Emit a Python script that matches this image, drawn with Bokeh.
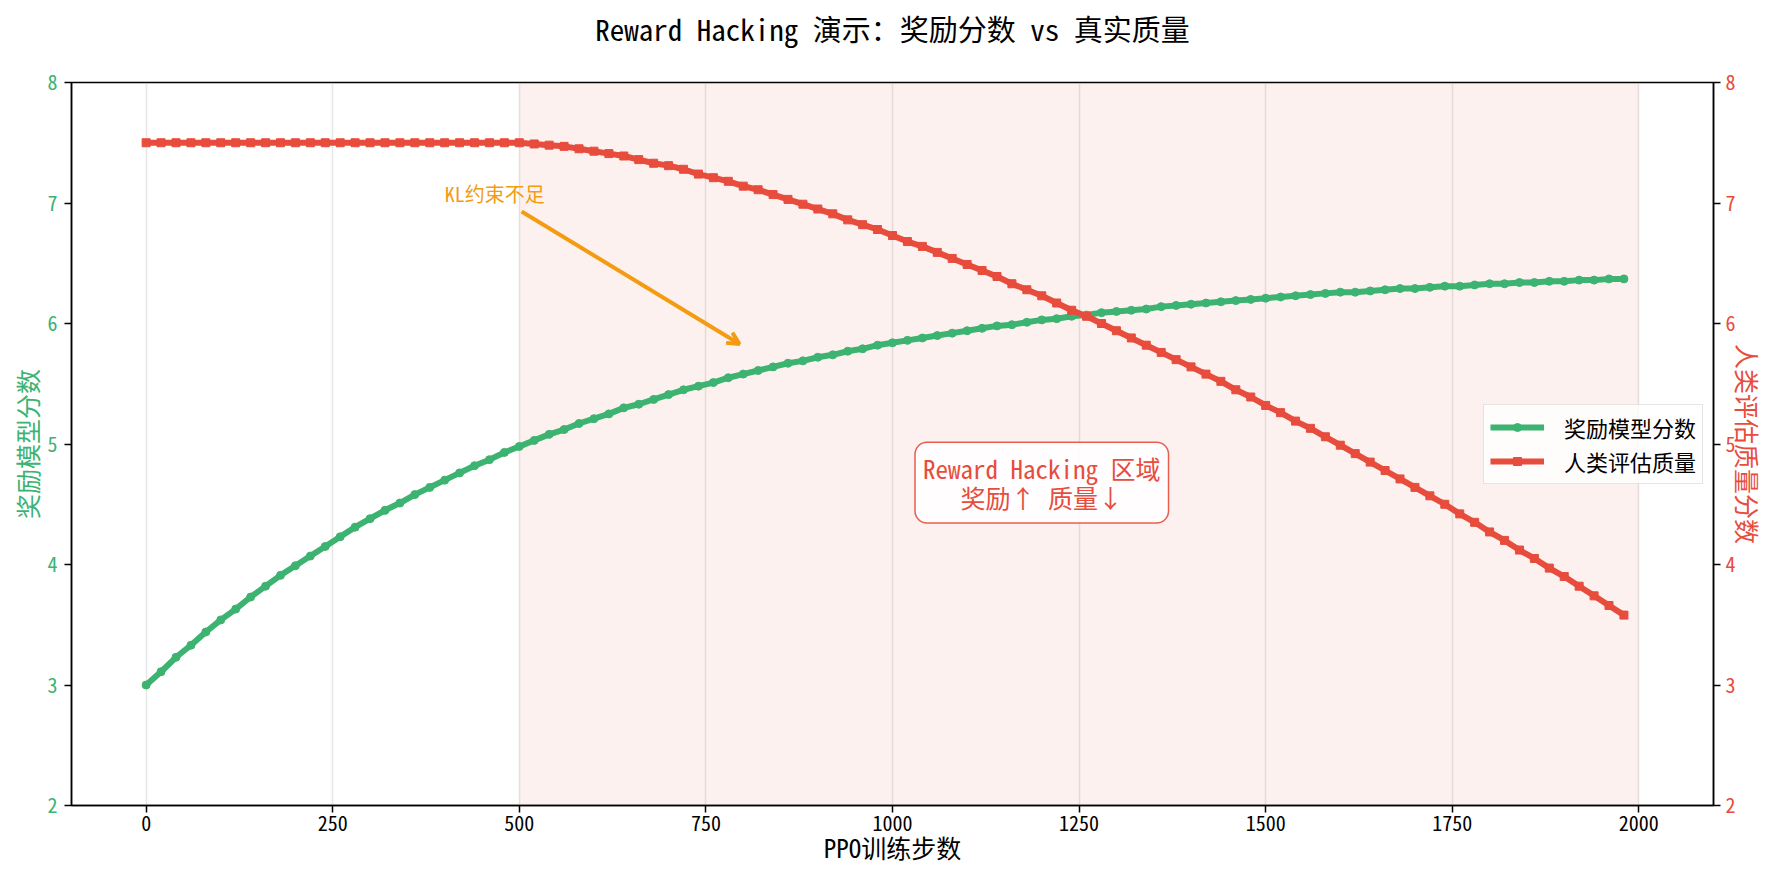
import math
from bokeh.plotting import figure
from bokeh.models import (Range1d, LinearAxis, FixedTicker, BoxAnnotation, Label,
                          Arrow, OpenHead, Legend, LegendItem, Title)
from bokeh.embed import file_html
from bokeh.resources import INLINE

FONT = "Noto Sans Mono CJK SC, Noto Sans CJK SC, sans-serif"

# ---------------- data ----------------
steps = list(range(0, 2000, 20))

reward_score = [
    3.00, 3.11, 3.23, 3.33, 3.44, 3.54, 3.63, 3.73, 3.82, 3.91,
    3.99, 4.07, 4.15, 4.23, 4.31, 4.38, 4.45, 4.51, 4.58, 4.64,
    4.70, 4.76, 4.82, 4.87, 4.93, 4.98, 5.03, 5.08, 5.12, 5.17,
    5.21, 5.25, 5.30, 5.33, 5.37, 5.41, 5.45, 5.48, 5.51, 5.55,
    5.58, 5.61, 5.64, 5.67, 5.69, 5.72, 5.74, 5.77, 5.79, 5.82,
    5.84, 5.86, 5.88, 5.90, 5.92, 5.94, 5.96, 5.98, 5.99, 6.01,
    6.03, 6.04, 6.06, 6.07, 6.09, 6.10, 6.11, 6.12, 6.14, 6.15,
    6.16, 6.17, 6.18, 6.19, 6.20, 6.21, 6.22, 6.23, 6.24, 6.25,
    6.26, 6.26, 6.27, 6.28, 6.29, 6.29, 6.30, 6.31, 6.31, 6.32,
    6.33, 6.33, 6.34, 6.34, 6.35, 6.35, 6.36, 6.36, 6.37, 6.37,
]

human_quality = [
    7.50, 7.50, 7.50, 7.50, 7.50, 7.50, 7.50, 7.50, 7.50, 7.50,
    7.50, 7.50, 7.50, 7.50, 7.50, 7.50, 7.50, 7.50, 7.50, 7.50,
    7.50, 7.50, 7.50, 7.50, 7.50, 7.50, 7.49, 7.48, 7.47, 7.45,
    7.43, 7.41, 7.39, 7.36, 7.33, 7.31, 7.28, 7.24, 7.21, 7.18,
    7.14, 7.11, 7.07, 7.03, 6.99, 6.95, 6.91, 6.86, 6.82, 6.78,
    6.73, 6.68, 6.64, 6.59, 6.54, 6.49, 6.44, 6.39, 6.33, 6.28,
    6.23, 6.17, 6.11, 6.06, 6.00, 5.94, 5.88, 5.82, 5.76, 5.70,
    5.64, 5.58, 5.52, 5.45, 5.39, 5.32, 5.26, 5.19, 5.13, 5.06,
    4.99, 4.92, 4.85, 4.78, 4.71, 4.64, 4.57, 4.50, 4.42, 4.35,
    4.27, 4.20, 4.12, 4.05, 3.97, 3.90, 3.82, 3.74, 3.66, 3.58,
]

x_ticks = [0, 250, 500, 750, 1000, 1250, 1500, 1750, 2000]
y_ticks = [2, 3, 4, 5, 6, 7, 8]

title_text = "Reward Hacking 演示：奖励分数 vs 真实质量"
x_label = "PPO训练步数"
y_left_label = "奖励模型分数"
y_right_label = "人类评估质量分数"
legend_labels = ["奖励模型分数", "人类评估质量"]
zone_text = "Reward Hacking 区域\n奖励↑ 质量↓"
kl_text = "KL约束不足"
zone_start, zone_end = 500, 2000

GREEN = "#3cb371"
RED = "#e74c3c"
ORANGE = "#f39c12"

# ---------------- figure ----------------
p = figure(width=1768, height=868, output_backend="svg", toolbar_location=None,
           x_range=Range1d(-100, 2100), y_range=Range1d(2, 8),
           min_border_left=71, min_border_right=55, min_border_top=80,
           min_border_bottom=63, background_fill_color="white",
           border_fill_color="white")
p.title = None
# spacer keeps the title away from the frame (closest panel to the frame)
p.add_layout(Title(text=" ", text_font=FONT, text_font_size="18px",
                   standoff=0), "above")
p.add_layout(Title(text=title_text, align="center", vertical_align="middle",
                   text_font=FONT, text_font_size="29px",
                   text_font_style="normal", text_color="#000000",
                   standoff=10), "above")
p.extra_y_ranges = {"right": Range1d(2, 8)}

p.outline_line_color = "#000000"
p.outline_line_width = 1.5
p.outline_line_alpha = 1

# shaded region
p.add_layout(BoxAnnotation(left=zone_start, right=zone_end, fill_color=RED,
                           fill_alpha=0.08, line_alpha=0, level="underlay"))

# grid
p.ygrid.visible = False
p.xgrid.ticker = FixedTicker(ticks=x_ticks)
p.xgrid.grid_line_color = "#b0b0b0"
p.xgrid.grid_line_alpha = 0.3
p.xgrid.grid_line_width = 1.5

# axes
def style_axis(ax, color, label, label_color, tick_standoff, label_standoff):
    ax.axis_line_color = "#000000"
    ax.axis_line_width = 1.5
    ax.major_tick_line_color = "#000000"
    ax.major_tick_line_width = 1.5
    ax.major_tick_out = 7
    ax.major_tick_in = 0
    ax.minor_tick_line_color = None
    ax.major_label_text_font = FONT
    ax.major_label_text_font_size = "20px"
    ax.major_label_text_color = color
    ax.major_label_standoff = tick_standoff
    ax.axis_label = label
    ax.axis_label_text_font = FONT
    ax.axis_label_text_font_size = "25px"
    ax.axis_label_text_font_style = "normal"
    ax.axis_label_text_color = label_color
    ax.axis_label_standoff = label_standoff

xa = p.xaxis[0]
style_axis(xa, "#000000", x_label, "#000000", 3, -5)
xa.ticker = FixedTicker(ticks=x_ticks)

ya = p.yaxis[0]
style_axis(ya, GREEN, y_left_label, GREEN, 7, 0)
ya.ticker = FixedTicker(ticks=y_ticks)

yr = LinearAxis(y_range_name="right", ticker=FixedTicker(ticks=y_ticks))
style_axis(yr, RED, y_right_label, RED, 5, -9)
p.add_layout(yr, "right")

# series
g_line = p.line(steps, reward_score, line_color=GREEN, line_width=6)
g_pts = p.scatter(steps, reward_score, marker="circle", size=8,
                  fill_color=GREEN, line_color=GREEN)
r_line = p.line(steps, human_quality, line_color=RED, line_width=6,
                y_range_name="right")
r_pts = p.scatter(steps, human_quality, marker="square", size=8,
                  fill_color=RED, line_color=RED, y_range_name="right")

legend = Legend(items=[
    LegendItem(label=legend_labels[0], renderers=[g_line, g_pts]),
    LegendItem(label=legend_labels[1], renderers=[r_line, r_pts]),
], location="center_right")
legend.label_text_font = FONT
legend.label_text_font_size = "22px"
legend.label_text_color = "#000000"
legend.label_height = 24
legend.glyph_width = 54
legend.glyph_height = 20
legend.label_standoff = 20
legend.spacing = 2
legend.padding = 6
legend.margin = 10
legend.background_fill_color = "white"
legend.background_fill_alpha = 0.8
legend.border_line_color = "#cccccc"
legend.border_line_width = 1.5
p.add_layout(legend)

# zone annotation
p.add_layout(Label(x=1200, y=4.68, text=zone_text, text_align="center",
                   text_baseline="middle", text_font=FONT,
                   text_font_size="25px", text_color=RED,
                   text_line_height=0.8,
                   background_fill_color="white", background_fill_alpha=0.85,
                   border_line_color=RED, border_line_width=1.5,
                   border_line_alpha=0.9, padding=8, border_radius=12))

# KL annotation
p.add_layout(Label(x=400, y=7.08, text=kl_text, text_align="left",
                   text_baseline="alphabetic", text_font=FONT,
                   text_font_size="20px", text_color=ORANGE))
p.add_layout(Arrow(x_start=503, y_start=6.93, x_end=795, y_end=5.83,
                   line_color=ORANGE, line_width=4,
                   end=OpenHead(size=12, line_color=ORANGE, line_width=4)))

open("out.html", "w").write(file_html(p, INLINE))
